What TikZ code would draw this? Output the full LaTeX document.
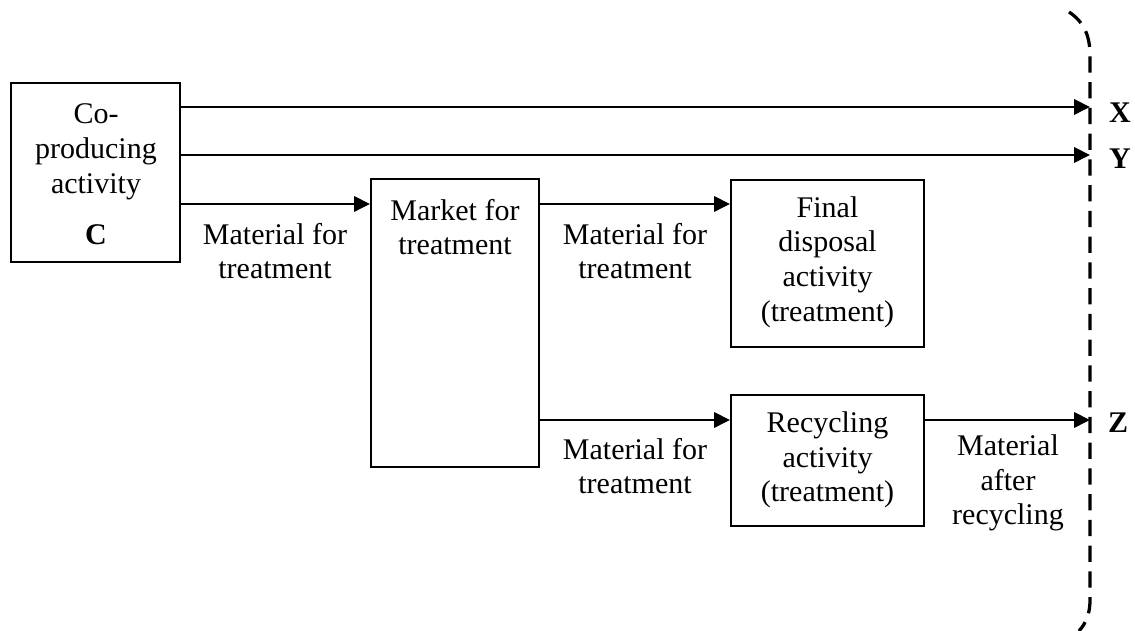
\documentclass[tikz,border=0pt]{standalone}
\usepackage{fontspec}
\setmainfont{Liberation Serif}
\usetikzlibrary{arrows.meta}
\tikzset{
  box/.style={draw, line width=0.8pt, inner sep=0pt},
  txt/.style={align=center, font=\fontsize{12}{13.9}\selectfont, inner sep=0pt},
  outlab/.style={txt, font=\fontsize{12}{13.9}\selectfont\bfseries},
  flow/.style={line width=0.8pt, -{Triangle[length=6.4pt,width=6.2pt]}},
  bracket/.style={line width=1.3pt, dash pattern=on 6.5pt off 3.8pt}
}
\begin{document}
\begin{tikzpicture}[x=0.4pt, y=-0.4pt]
    \useasboundingbox (0,0) rectangle (1135,631);

    % Boxes
    \node[box, minimum width=67.6pt, minimum height=71.6pt] (coprod) at (95.5,172.5) {};
    \node[box, minimum width=67.2pt, minimum height=115.2pt] (market) at (455,323.5) {};
    \node[box, minimum width=77.2pt, minimum height=67pt] (final) at (827.5,263.3) {};
    \node[box, minimum width=77.2pt, minimum height=52.4pt] (recyc) at (827.5,460.5) {};

    % Box texts
    \node[txt] (coprodtext) at (96,174) {Co-\\producing\\activity\\[6.5pt]\textbf{C}};
    \node[txt] (markettext) at (455,227) {Market for\\treatment};
    \node[txt] (finaltext) at (827.5,262) {Final\\disposal\\activity\\(treatment)};
    \node[txt] (recyctext) at (827.5,460) {Recycling\\activity\\(treatment)};

    % End points on the dashed line
    \coordinate (xend) at (1090,107);
    \coordinate (yend) at (1090,155);
    \coordinate (zend) at (1090,420);

    % Flows
    \draw[flow] (coprod.east |- xend) -- (xend);
    \draw[flow] (coprod.east |- yend) -- (yend);
    \draw[flow] (coprod.east |- 0,204) -- (market.west |- 0,204);
    \draw[flow] (market.east |- 0,204) -- (final.west |- 0,204);
    \draw[flow] (market.east |- zend) -- (recyc.west |- zend);
    \draw[flow] (recyc.east |- zend) -- (zend);

    % Flow labels
    \node[txt] (mat1) at (275,251) {Material for\\treatment};
    \node[txt] (mat2) at (635,251) {Material for\\treatment};
    \node[txt] (mat3) at (635,466) {Material for\\treatment};
    \node[txt] (mat4) at (1008,483) {Material\\after\\recycling};

    % Outputs
    \node[outlab] (xlab) at (1120,113) {X};
    \node[outlab] (ylab) at (1120,159) {Y};
    \node[outlab] (zlab) at (1118,423) {Z};

    % System boundary
    \draw[bracket] (1069,12) .. controls (1084,22) and (1090,36) .. (1090,55)
      -- (1090,600) .. controls (1090,612) and (1087,622) .. (1079,631);

\end{tikzpicture}
\end{document}
